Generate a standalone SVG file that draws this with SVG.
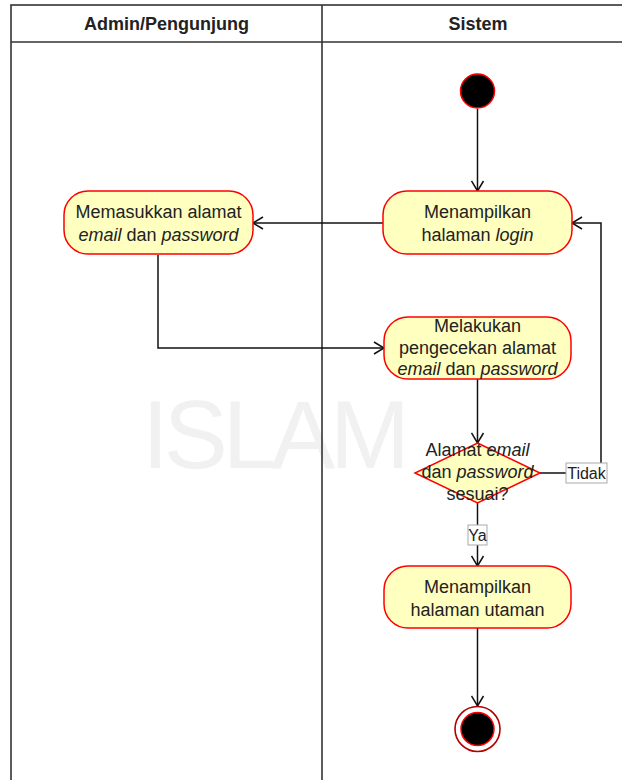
<svg xmlns="http://www.w3.org/2000/svg" width="622" height="780" viewBox="0 0 622 780">
  <style>
    .lane { fill: none; stroke: #333; stroke-width: 1.6; }
    .head { font-family: "Liberation Sans", Arial, sans-serif; font-size: 18px; font-weight: bold; fill: #222; text-anchor: middle; }
    .act { fill: #ffffc0; stroke: #ff0000; stroke-width: 1.5; }
    .txt { font-family: "Liberation Sans", Arial, sans-serif; font-size: 18px; fill: #222; text-anchor: middle; }
    .lbl { font-family: "Liberation Sans", Arial, sans-serif; font-size: 16px; fill: #222; text-anchor: middle; }
    .lblbox { fill: #fff; stroke: #aaa; stroke-width: 1; }
    .edge { fill: none; stroke: #111; stroke-width: 1.5; }
    .wm { font-family: "Liberation Sans", Arial, sans-serif; fill: #f1f1f1; }
    .it { font-style: italic; }
  </style>
  <defs>
    <marker id="open" markerUnits="userSpaceOnUse" markerWidth="14" markerHeight="14" viewBox="-12 -7 14 14" refX="0" refY="0" orient="auto">
      <path d="M-10,-6 L0,0 L-10,6" fill="none" stroke="#111" stroke-width="1.5"/>
    </marker>
  </defs>

  <rect width="622" height="780" fill="#fff"/>

  <!-- faint background lettering -->
  <g id="watermark">
    <text class="wm" x="142" y="468" font-size="96" textLength="268" lengthAdjust="spacing">ISLAM</text>
  </g>

  <!-- swimlanes -->
  <g id="lanes">
    <rect class="lane" x="11" y="5" width="630" height="800"/>
    <line class="lane" x1="11" y1="42" x2="640" y2="42"/>
    <line class="lane" x1="322" y1="5" x2="322" y2="800"/>
    <text class="head" x="166.5" y="30">Admin/Pengunjung</text>
    <text class="head" x="478" y="30">Sistem</text>
  </g>

  <!-- connectors -->
  <g id="connectors">
    <path class="edge" d="M477.5,109 V191" marker-end="url(#open)"/>
    <path class="edge" d="M383,223 H253" marker-end="url(#open)"/>
    <path class="edge" d="M158,255 V348 H384" marker-end="url(#open)"/>
    <path class="edge" d="M477.5,379 V443" marker-end="url(#open)"/>
    <path class="edge" d="M540,473 H601 V223 H572" marker-end="url(#open)"/>
    <path class="edge" d="M477.5,503 V566" marker-end="url(#open)"/>
    <path class="edge" d="M477.5,628 V706" marker-end="url(#open)"/>
    <g id="label-tidak">
      <rect class="lblbox" x="566" y="463" width="41" height="20"/>
      <text class="lbl" x="586.5" y="479">Tidak</text>
    </g>
    <g id="label-ya">
      <rect class="lblbox" x="468" y="525" width="19" height="20"/>
      <text class="lbl" x="477.5" y="541">Ya</text>
    </g>
  </g>

  <!-- nodes -->
  <g id="start">
    <circle cx="477.5" cy="91" r="17" fill="#000" stroke="#ff0000" stroke-width="1.5"/>
  </g>

  <g id="tampil-login">
    <rect class="act" x="383" y="191" width="189" height="63" rx="24"/>
    <text class="txt" x="477.5" y="218">Menampilkan</text>
    <text class="txt" x="477.5" y="241">halaman <tspan class="it">login</tspan></text>
  </g>

  <g id="masukkan-data">
    <rect class="act" x="64" y="191" width="189" height="63" rx="24"/>
    <text class="txt" x="158.5" y="218">Memasukkan alamat</text>
    <text class="txt" x="158.5" y="241"><tspan class="it">email</tspan> dan <tspan class="it">password</tspan></text>
  </g>

  <g id="cek-data">
    <rect class="act" x="384" y="317" width="187" height="62" rx="24"/>
    <text class="txt" x="477.5" y="332">Melakukan</text>
    <text class="txt" x="477.5" y="353.5">pengecekan alamat</text>
    <text class="txt" x="477.5" y="375"><tspan class="it">email</tspan> dan <tspan class="it">password</tspan></text>
  </g>

  <g id="keputusan">
    <polygon class="act" points="477.5,443 540,473 477.5,503 415,473"/>
    <text class="txt" x="477.5" y="456">Alamat <tspan class="it">email</tspan></text>
    <text class="txt" x="477.5" y="478">dan <tspan class="it">password</tspan></text>
    <text class="txt" x="477.5" y="500">sesuai?</text>
  </g>

  <g id="tampil-utama">
    <rect class="act" x="384" y="566" width="187" height="62" rx="24"/>
    <text class="txt" x="477.5" y="593">Menampilkan</text>
    <text class="txt" x="477.5" y="616">halaman utaman</text>
  </g>

  <g id="end">
    <circle cx="477.5" cy="729" r="22.5" fill="#fff" stroke="#b00000" stroke-width="1.6"/>
    <circle cx="477.5" cy="729" r="16.5" fill="#000" stroke="#ff0000" stroke-width="1.5"/>
  </g>
</svg>
